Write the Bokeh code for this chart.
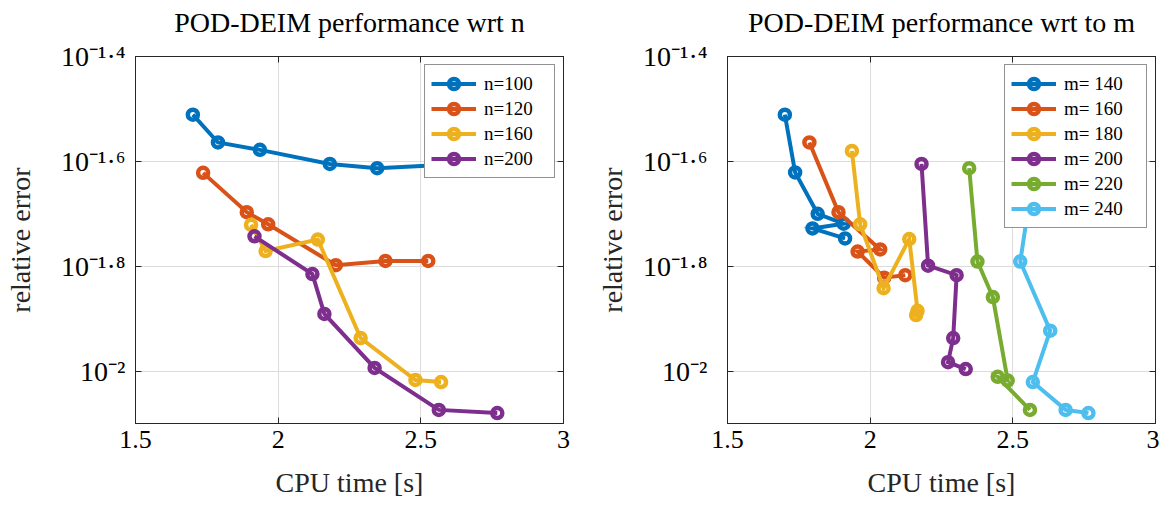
from bokeh.plotting import figure
from bokeh.layouts import row
from bokeh.models import Range1d, FixedTicker, LinearAxis, LogAxis, CustomJSTickFormatter
from bokeh.embed import file_html
from bokeh.resources import INLINE

# ---------------- data ----------------
# Left panel: performance w.r.t. n   (x = CPU time [s], y = relative error)
n_labels = ["n=100", "n=120", "n=160", "n=200"]
n100_t = [1.701, 1.789, 1.936, 2.181, 2.347, 2.570]
n100_e = [0.03083, 0.02729, 0.02642, 0.02483, 0.02438, 0.02472]
n120_t = [1.737, 1.890, 1.965, 2.202, 2.376, 2.526]
n120_e = [0.02388, 0.02009, 0.01905, 0.01592, 0.01622, 0.01622]
n160_t = [1.905, 1.956, 2.139, 2.289, 2.481, 2.571]
n160_e = [0.01901, 0.01694, 0.01782, 0.01156, 0.009616, 0.009528]
n200_t = [1.917, 2.120, 2.162, 2.338, 2.563, 2.768]
n200_e = [0.01807, 0.01531, 0.01285, 0.01014, 0.008433, 0.008318]

# Right panel: performance w.r.t. m
m_labels = ["m= 140", "m= 160", "m= 180", "m= 200", "m= 220", "m= 240"]
m140_t = [1.701, 1.737, 1.816, 1.907, 1.798, 1.912]
m140_e = [0.03083, 0.02393, 0.01995, 0.01910, 0.01871, 0.01791]
m160_t = [1.787, 1.889, 2.035, 1.956, 2.049, 2.123]
m160_e = [0.02729, 0.02009, 0.01706, 0.01690, 0.01507, 0.01524]
m180_t = [1.936, 1.965, 2.047, 2.137, 2.166, 2.161]
m180_e = [0.02630, 0.01905, 0.01439, 0.01786, 0.01303, 0.01279]
m200_t = [2.180, 2.203, 2.303, 2.291, 2.273, 2.335]
m200_e = [0.02483, 0.01589, 0.01524, 0.01156, 0.01040, 0.01009]
m220_t = [2.347, 2.376, 2.430, 2.482, 2.447, 2.560]
m220_e = [0.02438, 0.01618, 0.01384, 0.009594, 0.009750, 0.008433]
m240_t = [2.575, 2.526, 2.631, 2.570, 2.685, 2.765]
m240_e = [0.02427, 0.01618, 0.01194, 0.009528, 0.008433, 0.008318]

x_ticks = [1.5, 2, 2.5, 3]
y_ticks = [10 ** -2, 10 ** -1.8, 10 ** -1.6, 10 ** -1.4]
y_tick_labels = ["10\u207b\u00b2",
                 "10\u207b\u00b9\u00b7\u2078",
                 "10\u207b\u00b9\u00b7\u2076",
                 "10\u207b\u00b9\u00b7\u2074"]
y_min, y_max = 10 ** -2.1, 10 ** -1.4

titles = ["POD-DEIM performance wrt n", "POD-DEIM performance wrt to m"]
x_label = "CPU time [s]"
y_label = "relative error"

colors = ["#0072BD", "#D95319", "#EDB120", "#7E2F8E", "#77AC30", "#4DBEEE"]

FONT = "Liberation Serif"
DARK = "#262626"


def box_axis(axis):
    # tick marks only (opposite side of the box), no labels
    axis.formatter = CustomJSTickFormatter(code="return ''")
    axis.major_label_text_font_size = "1px"
    axis.major_label_standoff = 0
    axis.major_tick_in = 6
    axis.major_tick_out = 0
    axis.minor_tick_line_color = None
    axis.axis_line_color = DARK
    axis.major_tick_line_color = DARK


def make_panel(title, series, labels, border_left, border_right,
               tick_standoff, ylab_standoff, label_w):
    p = figure(
        output_backend="svg", toolbar_location=None,
        frame_width=428, frame_height=367,
        min_border_left=border_left, min_border_right=border_right,
        min_border_top=56, min_border_bottom=74,
        y_axis_type="log",
        x_range=Range1d(1.5, 3), y_range=Range1d(y_min, y_max),
    )
    p.outline_line_color = DARK
    p.outline_line_width = 1
    p.outline_line_alpha = 1
    p.background_fill_color = "white"
    p.border_fill_color = "white"

    xa = p.xaxis[0]
    xa.ticker = FixedTicker(ticks=x_ticks, minor_ticks=[])
    xa.major_label_text_font = FONT
    xa.major_label_text_font_size = "26px"
    xa.major_label_text_color = "#000000"
    xa.major_label_standoff = 7
    xa.major_tick_in = 6
    xa.major_tick_out = 0
    xa.minor_tick_line_color = None
    xa.axis_line_color = DARK
    xa.major_tick_line_color = DARK
    xa.axis_label = x_label
    xa.axis_label_text_font = FONT
    xa.axis_label_text_font_size = "28px"
    xa.axis_label_text_font_style = "normal"
    xa.axis_label_text_color = DARK
    xa.axis_label_standoff = 16

    ya = p.yaxis[0]
    ya.ticker = FixedTicker(ticks=y_ticks, minor_ticks=[])
    ya.major_label_overrides = dict(zip(y_ticks, y_tick_labels))
    ya.major_label_text_font = FONT
    ya.major_label_text_font_size = "28px"
    ya.major_label_text_color = "#000000"
    ya.major_label_standoff = tick_standoff
    ya.major_tick_in = 6
    ya.major_tick_out = 0
    ya.minor_tick_line_color = None
    ya.axis_line_color = DARK
    ya.major_tick_line_color = DARK
    ya.axis_label = y_label
    ya.axis_label_text_font = FONT
    ya.axis_label_text_font_size = "28px"
    ya.axis_label_text_font_style = "normal"
    ya.axis_label_text_color = DARK
    ya.axis_label_standoff = ylab_standoff

    # top axis: box ticks + the panel title as its label
    top = LinearAxis(ticker=FixedTicker(ticks=x_ticks, minor_ticks=[]))
    box_axis(top)
    top.axis_label = title
    top.axis_label_text_font = FONT
    top.axis_label_text_font_size = "28px"
    top.axis_label_text_font_style = "normal"
    top.axis_label_text_color = "#000000"
    top.axis_label_standoff = 19
    p.add_layout(top, "above")

    rgt = LogAxis(ticker=FixedTicker(ticks=y_ticks, minor_ticks=[]))
    box_axis(rgt)
    p.add_layout(rgt, "right")

    p.xgrid.ticker = FixedTicker(ticks=x_ticks, minor_ticks=[])
    p.ygrid.ticker = FixedTicker(ticks=y_ticks, minor_ticks=[])
    p.grid.grid_line_color = "#dcdcdc"
    p.grid.grid_line_width = 1

    for (xs, ys), lab, col in zip(series, labels, colors):
        p.line(xs, ys, line_color=col, line_width=4, legend_label=lab,
               line_join="miter")
        p.scatter(xs, ys, marker="circle", size=10, line_color=col, line_width=4.5,
                  fill_color=None, legend_label=lab)

    lg = p.legend[0]
    lg.location = "top_right"
    lg.margin = 8
    lg.padding = 6
    lg.spacing = 0
    lg.label_height = 25
    lg.glyph_height = 25
    lg.glyph_width = 45
    lg.label_standoff = 8
    lg.label_width = label_w
    lg.label_text_font = FONT
    lg.label_text_font_size = "19px"
    lg.label_text_color = "#000000"
    lg.border_line_color = DARK
    lg.border_line_width = 1
    lg.background_fill_alpha = 1.0
    return p


left = make_panel(
    titles[0],
    [(n100_t, n100_e), (n120_t, n120_e), (n160_t, n160_e), (n200_t, n200_e)],
    n_labels, border_left=135, border_right=28,
    tick_standoff=10, ylab_standoff=22, label_w=64,
)
right = make_panel(
    titles[1],
    [(m140_t, m140_e), (m160_t, m160_e), (m180_t, m180_e),
     (m200_t, m200_e), (m220_t, m220_e), (m240_t, m240_e)],
    m_labels, border_left=136, border_right=4,
    tick_standoff=20, ylab_standoff=12, label_w=76,
)

page = row(left, right, spacing=0)
open("out.html", "w").write(file_html(page, INLINE))
